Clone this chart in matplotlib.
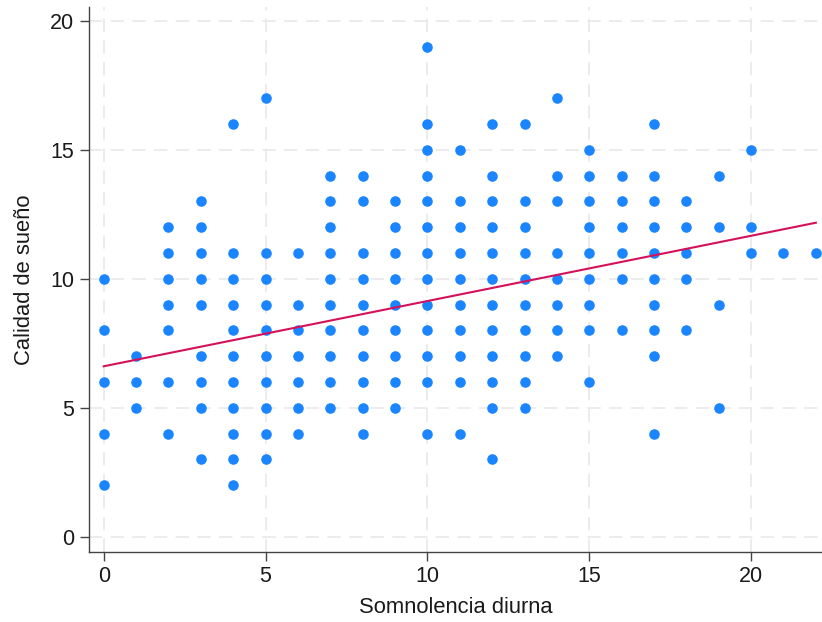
import matplotlib
matplotlib.use("Agg")
import matplotlib.pyplot as plt
import numpy as np

# sleepiness score (x) and sleep quality (y), one entry per distinct point
somnolencia = (
    [0] * 5 + [1] * 3 + [2] * 7 + [3] * 9 + [4] * 11 + [5] * 10 + [6] * 7
    + [7] * 10 + [8] * 10 + [9] * 9 + [10] * 13 + [11] * 10 + [12] * 12
    + [13] * 10 + [14] * 8 + [15] * 9 + [16] * 6 + [17] * 10 + [18] * 5
    + [19] * 4 + [20] * 3 + [21] * 1 + [22] * 1
)
calidad = (
    [10, 8, 6, 4, 2]
    + [7, 6, 5]
    + [12, 11, 10, 9, 8, 6, 4]
    + [13, 12, 11, 10, 9, 7, 6, 5, 3]
    + [16, 11, 10, 9, 8, 7, 6, 5, 4, 3, 2]
    + [17, 11, 10, 9, 8, 7, 6, 5, 4, 3]
    + [11, 9, 8, 7, 6, 5, 4]
    + [14, 13, 12, 11, 10, 9, 8, 7, 6, 5]
    + [14, 13, 11, 10, 9, 8, 7, 6, 5, 4]
    + [13, 12, 11, 10, 9, 8, 7, 6, 5]
    + [19, 16, 15, 14, 13, 12, 11, 10, 9, 8, 7, 6, 4]
    + [15, 13, 12, 11, 10, 9, 8, 7, 6, 4]
    + [16, 14, 13, 12, 11, 10, 9, 8, 7, 6, 5, 3]
    + [16, 13, 12, 11, 10, 9, 8, 7, 6, 5]
    + [17, 14, 13, 11, 10, 9, 8, 7]
    + [15, 14, 13, 12, 11, 10, 9, 8, 6]
    + [14, 13, 12, 11, 10, 8]
    + [16, 14, 13, 12, 11, 10, 9, 8, 7, 4]
    + [13, 12, 11, 10, 8]
    + [14, 12, 9, 5]
    + [15, 12, 11]
    + [11]
    + [11]
)

# linear fit as drawn in the chart
fit_intercept = 6.61
fit_slope = 0.253
fit_range = [0, 22]

x_ticks = [0, 5, 10, 15, 20]
y_ticks = [0, 5, 10, 15, 20]

plt.rcParams["font.family"] = ["Liberation Sans", "DejaVu Sans"]

fig = plt.figure(figsize=(8.22, 6.22), dpi=100)
ax = fig.add_axes([0.1083, 0.113, 0.8917, 0.8757])

ax.grid(True, color="#e9e9e9", linestyle=(0, (8, 5)), linewidth=1.2, zorder=0)
ax.scatter(somnolencia, calidad, s=58, color="#1a85ff", linewidths=0, zorder=3)

fx = np.array(fit_range, dtype=float)
ax.plot(fx, fit_intercept + fit_slope * fx, color="#d41159", linewidth=1.5, zorder=4)

ax.set_xlim(-0.454, 22.19)
ax.set_ylim(-0.58, 20.54)
ax.set_xticks(x_ticks)
ax.set_yticks(y_ticks)

for side in ["top", "right"]:
    ax.spines[side].set_visible(False)
for side in ["left", "bottom"]:
    ax.spines[side].set_color("#444444")
    ax.spines[side].set_linewidth(1.0)

ax.tick_params(axis="both", direction="out", length=6.5, width=1.0, color="#444444",
               labelsize=15.5, labelcolor="#1a1a1a", pad=4)

ax.set_xlabel("Somnolencia diurna", fontsize=15.8, color="#1a1a1a", labelpad=7)
ax.set_ylabel("Calidad de sueño", fontsize=15.8, color="#1a1a1a", labelpad=11)

fig.savefig("out.png", dpi=100)
